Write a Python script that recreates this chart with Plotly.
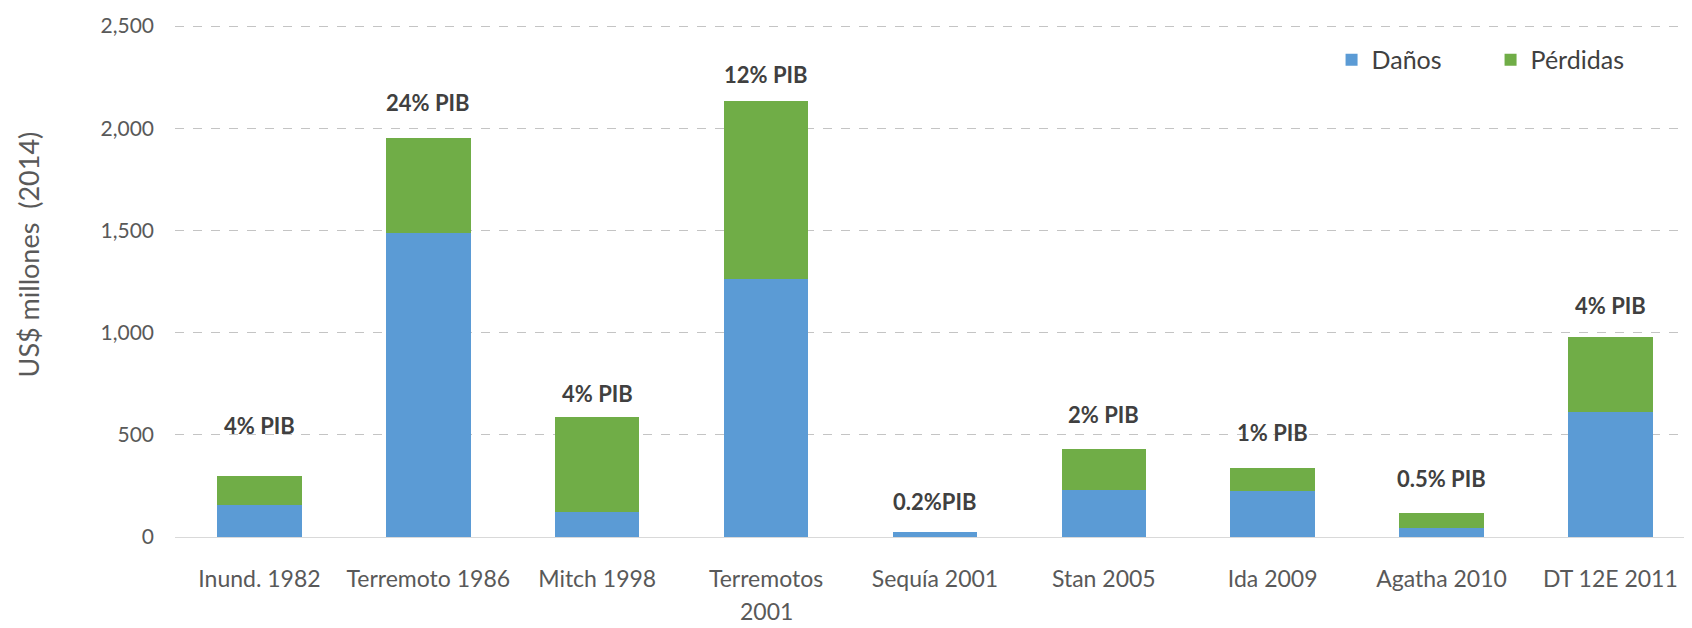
import plotly.graph_objects as go

categories = ["Inund. 1982", "Terremoto 1986", "Mitch 1998", "Terremotos 2001",
              "Sequía 2001", "Stan 2005", "Ida 2009", "Agatha 2010", "DT 12E 2011"]
tick_labels = ["Inund. 1982", "Terremoto 1986", "Mitch 1998", "Terremotos",
               "Sequía 2001", "Stan 2005", "Ida 2009", "Agatha 2010", "DT 12E 2011"]
danos = [157, 1487, 122, 1260, 26, 230, 225, 42, 611]
perdidas = [141, 465, 465, 874, 0, 199, 114, 74, 367]
pib_labels = ["4% PIB", "24% PIB", "4% PIB", "12% PIB", "0.2%PIB",
              "2% PIB", "1% PIB", "0.5% PIB", "4% PIB"]
y_ticks = [0, 500, 1000, 1500, 2000, 2500]

# label offsets above bar tops (pixels), styling only
label_shift = [51, 36, 24, 26, 30, 35, 35, 35, 32]

BLUE = "#5B9BD5"
GREEN = "#70AD47"
FONT = "Lato"

fig = go.Figure()
fig.add_trace(go.Bar(x=categories, y=danos, name="Daños", marker_color=BLUE,
                     marker_line_width=0))
fig.add_trace(go.Bar(x=categories, y=perdidas, name="Pérdidas", marker_color=GREEN,
                     marker_line_width=0))

for cat, d, p, lab, sh in zip(categories, danos, perdidas, pib_labels, label_shift):
    fig.add_annotation(x=cat, y=d + p, text=lab, showarrow=False, yanchor="middle",
                       yshift=sh,
                       font=dict(family=FONT, size=22, color="#404040", weight="bold"))

# second line of the wrapped category label
fig.add_annotation(x=categories[3], xref="x", yref="paper", y=0, yshift=-74,
                   text="2001", showarrow=False, yanchor="middle",
                   font=dict(family=FONT, size=23, color="#595959"))

# y-axis title as rotated annotation
fig.add_annotation(xref="paper", yref="paper", x=-0.0965, y=0.55,
                   text="US$ millones  (2014)", textangle=-90, showarrow=False,
                   xanchor="center", yanchor="middle",
                   font=dict(family=FONT, size=27, color="#595959"))

fig.update_layout(
    barmode="stack",
    bargap=0.5,
    width=1684, height=620,
    margin=dict(l=167, r=0, t=16, b=91),
    paper_bgcolor="white", plot_bgcolor="white",
    font=dict(family=FONT, size=21, color="#595959"),
    showlegend=True,
    legend=dict(orientation="h", x=0.7624, y=0.93, xanchor="left", yanchor="middle",
                font=dict(size=25, color="#404040"), itemwidth=30,
                entrywidth=114, entrywidthmode="pixels",
                traceorder="normal", bgcolor="rgba(0,0,0,0)"),
    xaxis=dict(tickmode="array", tickvals=categories, ticktext=tick_labels,
               range=[-0.5, 8.483],
               showline=True, linecolor="#D9D9D9", linewidth=1, ticks="",
               automargin=False, ticklabelstandoff=21,
               tickfont=dict(size=23, color="#595959")),
    yaxis=dict(range=[0, 2510], tickvals=y_ticks,
               tickformat=",", showgrid=True,
               gridcolor="#C4C4C4", griddash="dash", gridwidth=1,
               zeroline=True, zerolinecolor="#D9D9D9", zerolinewidth=1,
               automargin=False, ticklabelstandoff=20,
               tickfont=dict(size=21, color="#595959")),
)

fig.write_html("out.html")
